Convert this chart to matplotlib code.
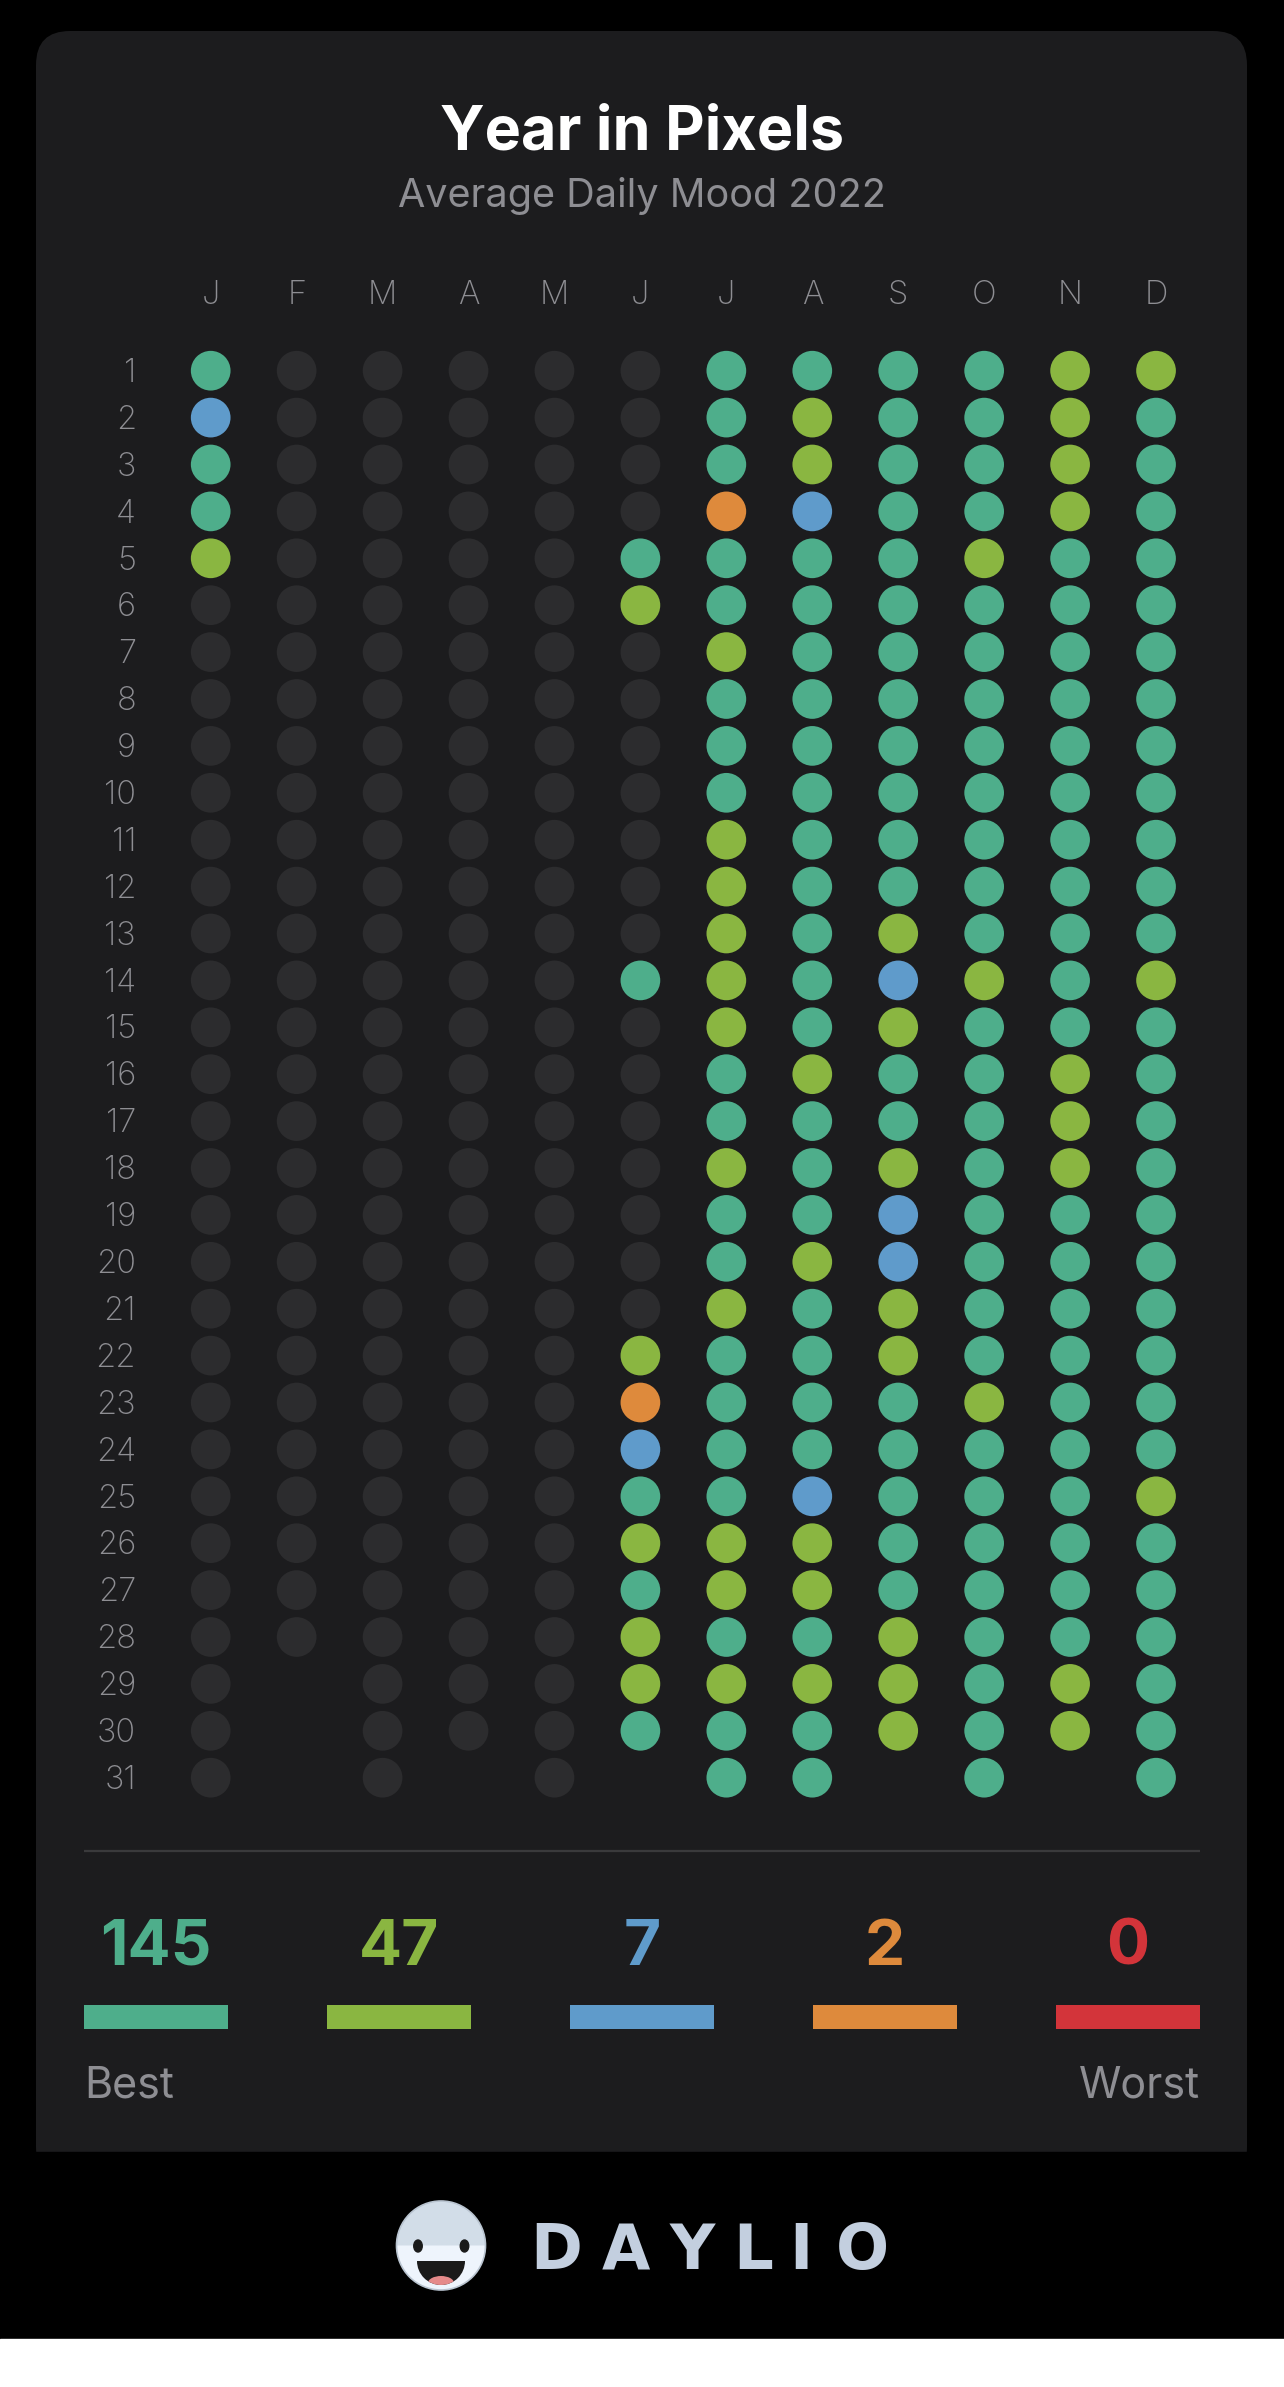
import matplotlib
matplotlib.use("Agg")
import matplotlib.pyplot as plt
from matplotlib.patches import FancyBboxPatch, Rectangle, Circle, Ellipse, Wedge
import numpy as np

# ---------------- data ----------------
months = ["J", "F", "M", "A", "M", "J", "J", "A", "S", "O", "N", "D"]
days = list(range(1, 32))
# mood codes: 0 = no entry, 1 = best (rad), 2 = good, 3 = meh, 4 = bad, 5 = worst (awful)
jan = [1, 3, 1, 1, 2, 0, 0, 0, 0, 0, 0, 0, 0, 0, 0, 0, 0, 0, 0, 0, 0, 0, 0, 0, 0, 0, 0, 0, 0, 0, 0]
feb = [0, 0, 0, 0, 0, 0, 0, 0, 0, 0, 0, 0, 0, 0, 0, 0, 0, 0, 0, 0, 0, 0, 0, 0, 0, 0, 0, 0]
mar = [0, 0, 0, 0, 0, 0, 0, 0, 0, 0, 0, 0, 0, 0, 0, 0, 0, 0, 0, 0, 0, 0, 0, 0, 0, 0, 0, 0, 0, 0, 0]
apr = [0, 0, 0, 0, 0, 0, 0, 0, 0, 0, 0, 0, 0, 0, 0, 0, 0, 0, 0, 0, 0, 0, 0, 0, 0, 0, 0, 0, 0, 0]
may = [0, 0, 0, 0, 0, 0, 0, 0, 0, 0, 0, 0, 0, 0, 0, 0, 0, 0, 0, 0, 0, 0, 0, 0, 0, 0, 0, 0, 0, 0, 0]
jun = [0, 0, 0, 0, 1, 2, 0, 0, 0, 0, 0, 0, 0, 1, 0, 0, 0, 0, 0, 0, 0, 2, 4, 3, 1, 2, 1, 2, 2, 1]
jul = [1, 1, 1, 4, 1, 1, 2, 1, 1, 1, 2, 2, 2, 2, 2, 1, 1, 2, 1, 1, 2, 1, 1, 1, 1, 2, 2, 1, 2, 1, 1]
aug = [1, 2, 2, 3, 1, 1, 1, 1, 1, 1, 1, 1, 1, 1, 1, 2, 1, 1, 1, 2, 1, 1, 1, 1, 3, 2, 2, 1, 2, 1, 1]
sep = [1, 1, 1, 1, 1, 1, 1, 1, 1, 1, 1, 1, 2, 3, 2, 1, 1, 2, 3, 3, 2, 2, 1, 1, 1, 1, 1, 2, 2, 2]
oct_ = [1, 1, 1, 1, 2, 1, 1, 1, 1, 1, 1, 1, 1, 2, 1, 1, 1, 1, 1, 1, 1, 1, 2, 1, 1, 1, 1, 1, 1, 1, 1]
nov = [2, 2, 2, 2, 1, 1, 1, 1, 1, 1, 1, 1, 1, 1, 1, 2, 2, 2, 1, 1, 1, 1, 1, 1, 1, 1, 1, 1, 2, 2]
dec = [2, 1, 1, 1, 1, 1, 1, 1, 1, 1, 1, 1, 1, 2, 1, 1, 1, 1, 1, 1, 1, 1, 1, 1, 2, 1, 1, 1, 1, 1, 1]
year_moods = [jan, feb, mar, apr, may, jun, jul, aug, sep, oct_, nov, dec]

mood_levels = [1, 2, 3, 4, 5]
mood_colors = {0: "#2C2C2E", 1: "#4EAE8B", 2: "#8AB641", 3: "#5F9BCB", 4: "#DE8A3C", 5: "#D3343A"}
mood_counts = [sum(v == m for month in year_moods for v in month) for m in mood_levels]

title = "Year in Pixels"
subtitle = "Average Daily Mood 2022"

# ---------------- figure ----------------
W, H = 1284, 2387
DPI = 100
fig = plt.figure(figsize=(W / DPI, H / DPI), dpi=DPI)
fig.patch.set_facecolor("black")

FONT = ["Inter", "DejaVu Sans"]
GRAY = "#8E8E93"
CARD = "#1C1C1E"

# background / pixel-space axes
bg = fig.add_axes([0, 0, 1, 1])
bg.set_xlim(0, W)
bg.set_ylim(H, 0)
bg.set_aspect("equal")
bg.axis("off")
bg.add_patch(Rectangle((0, 0), W, H, color="black", zorder=0))
bg.add_patch(FancyBboxPatch((36, 31), 1211, 2150, boxstyle="round,pad=0,rounding_size=34",
                            facecolor=CARD, edgecolor="none", zorder=1))
bg.add_patch(Rectangle((0, 2152), W, 200, color="black", zorder=2))
bg.add_patch(Rectangle((0, 2339), W, H - 2339, color="white", zorder=3))

# title & subtitle
bg.text(W / 2, 150, title, ha="center", va="baseline", color="white",
        fontsize=44, fontweight="bold", family=FONT, zorder=5)
bg.text(W / 2, 207, subtitle, ha="center", va="baseline", color=GRAY,
        fontsize=28.5, family=FONT, zorder=5)

# divider
bg.plot([84, 1200], [1851, 1851], color="#3A3A3C", lw=1.6, solid_capstyle="butt", zorder=5)

# "Best" / "Worst"
bg.text(84, 2097, "Best", ha="left", va="baseline", color=GRAY, fontsize=31, family=FONT, zorder=5)
bg.text(1200, 2097, "Worst", ha="right", va="baseline", color=GRAY, fontsize=31, family=FONT, zorder=5)

# ---------------- pixel grid ----------------
col0, col_step = 210.7, 85.94
row0, row_step = 370.7, 46.9
gx0 = col0 - 0.5 * col_step
gw = 12 * col_step
gy0 = row0 - 0.5 * row_step
gh = 31 * row_step
gax = fig.add_axes([gx0 / W, 1 - (gy0 + gh) / H, gw / W, gh / H])
gax.set_xlim(-0.5, 11.5)
gax.set_ylim(31.5, 0.5)
gax.axis("off")
gax.patch.set_alpha(0)

xs, ys, cs = [], [], []
for mi, month in enumerate(year_moods):
    for di, v in enumerate(month):
        xs.append(mi)
        ys.append(di + 1)
        cs.append(mood_colors[v])
dot_d_pt = 39.7 * 72 / DPI
gax.scatter(xs, ys, s=dot_d_pt ** 2, c=cs, linewidths=0, zorder=3)

for mi, m in enumerate(months):
    gax.text(mi, 1 + (304 - row0) / row_step, m, ha="center", va="baseline", color=GRAY,
             fontsize=23.5, fontweight="light", family=FONT, clip_on=False)
for d in days:
    gax.text((136 - col0) / col_step, d + 11.2 / row_step, str(d), ha="right", va="baseline",
             color=GRAY, fontsize=23.5, fontweight="light", family=FONT, clip_on=False)

# ---------------- summary swatches ----------------
sx0, s_step = 156, 243
sax = fig.add_axes([(sx0 - 0.5 * s_step) / W, 1 - 2028.8 / H, 5 * s_step / W, 23.6 / H])
sax.set_xlim(-0.5, 4.5)
sax.set_ylim(0, 1)
sax.axis("off")
sax.patch.set_alpha(0)
sax.bar(range(len(mood_levels)), [1] * len(mood_levels), width=144 / s_step,
        color=[mood_colors[m] for m in mood_levels], linewidth=0)
for i, (m, n) in enumerate(zip(mood_levels, mood_counts)):
    sax.text(i, 1 + (2005.2 - 1964.7) / 23.6, str(n), ha="center", va="baseline",
             color=mood_colors[m], fontsize=46, fontweight="bold", family=FONT, clip_on=False)

# ---------------- Daylio logo ----------------
fx, fy, fr = 441, 2245.5, 44.5
bg.add_patch(Circle((fx, fy), fr, facecolor="#D2DDE8", edgecolor="none", zorder=6))
bg.add_patch(Wedge((fx, fy), fr, 0, 180, facecolor="#EEF4FC", edgecolor="none", zorder=7))
bg.add_patch(Circle((fx, fy), fr, facecolor="none", edgecolor="#B9C4D0", lw=1.2, zorder=8))
for ex in (418, 464.5):
    bg.add_patch(Ellipse((ex, 2246), 8.5, 12, color="#1A1A1A", zorder=9))
mouth = Wedge((441, 2261), 24, 0, 180, facecolor="#1A1A1A", edgecolor="none", zorder=9)
bg.add_patch(mouth)
tongue = Ellipse((441, 2283), 26, 14, facecolor="#E58A8A", edgecolor="none", zorder=10)
bg.add_patch(tongue)
tongue.set_clip_path(mouth)

logo_letters = ["D", "A", "Y", "L", "I", "O"]
logo_center = [556, 626, 692, 753, 801, 862]
for ch, lx in zip(logo_letters, logo_center):
    bg.text(lx, 2269, ch, ha="center", va="baseline", color="#C3CFDF",
            fontsize=45, fontweight="bold", family=["DejaVu Sans"], zorder=6)

fig.savefig("out.png", dpi=DPI, facecolor=fig.get_facecolor())
